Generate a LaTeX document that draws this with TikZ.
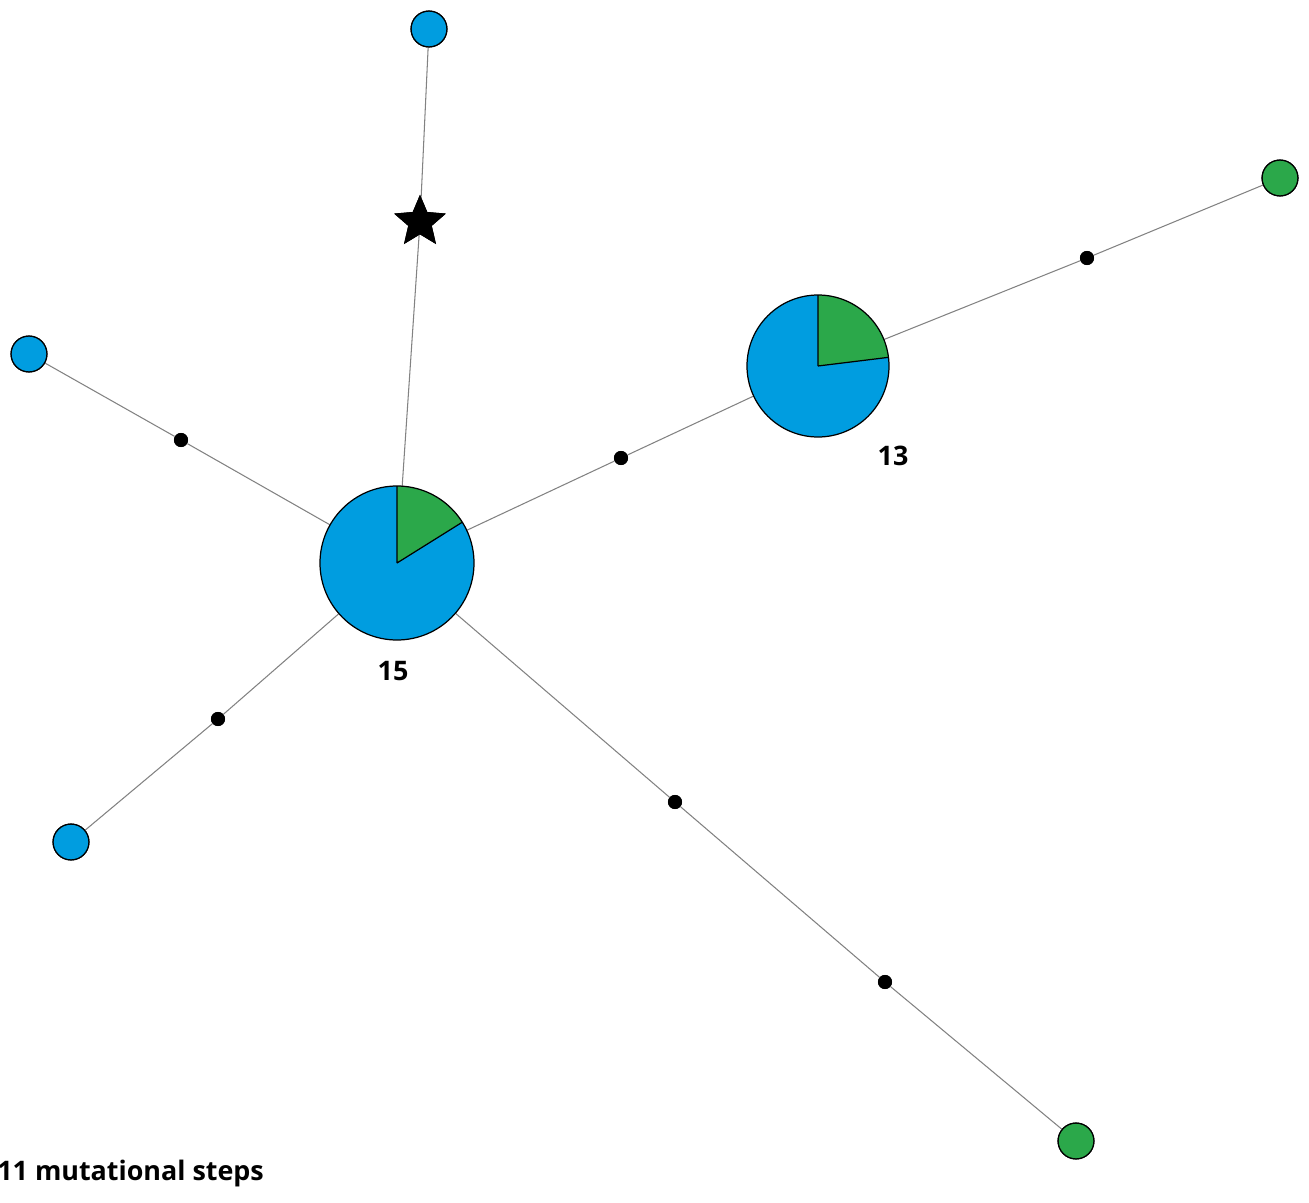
\documentclass[tikz,border=0pt]{standalone}
\usepackage{fontspec}
\setmainfont{Open Sans}
\usetikzlibrary{shapes.geometric}
\definecolor{hapblue}{RGB}{0,157,224}
\definecolor{hapgreen}{RGB}{43,168,74}
\definecolor{linkgray}{RGB}{130,130,130}
\tikzset{
  link/.style={draw=linkgray, line width=0.6pt},
  hap/.style={circle, draw=black, line width=0.7pt, minimum size=#1, inner sep=0pt},
  bluehap/.style={hap=20.4pt, fill=hapblue},
  greenhap/.style={hap=20.4pt, fill=hapgreen},
  median/.style={circle, fill=black, minimum size=8pt, inner sep=0pt},
  rootstar/.style={star, star points=5, star point ratio=2.2, fill=black, minimum size=31pt, inner sep=0pt},
  lbl/.style={font=\bfseries\fontsize{15.3}{17}\selectfont}
}
\begin{document}
\begin{tikzpicture}[x=0.02cm, y=-0.02cm]
\useasboundingbox (0,0) rectangle (1309,1203);
% haplotype positions
\coordinate (h15) at (397,563);
\coordinate (h13) at (818,366);
\node[bluehap]  (b1) at (429,29) {};
\node[bluehap]  (b2) at (29,354) {};
\node[bluehap]  (b3) at (71,842) {};
\node[greenhap] (g1) at (1280,178) {};
\node[greenhap] (g2) at (1076,1141) {};
\node[rootstar] (st) at (420,222) {};
\node[median] (m1) at (181,440) {};
\node[median] (m2) at (621,458) {};
\node[median] (m3) at (1087,258) {};
\node[median] (m4) at (218,719) {};
\node[median] (m5) at (675,802) {};
\node[median] (m6) at (885,982) {};
% connectors
\draw[link] (h15) -- (st.center) -- (b1);
\draw[link] (h15) -- (m1) -- (b2);
\draw[link] (h15) -- (m4) -- (b3);
\draw[link] (h15) -- (m5) -- (m6) -- (g2);
\draw[link] (h15) -- (m2) -- (h13);
\draw[link] (h13) -- (m3) -- (g1);
% redraw end nodes above links
\node[bluehap]  at (b1) {};
\node[bluehap]  at (b2) {};
\node[bluehap]  at (b3) {};
\node[greenhap] at (g1) {};
\node[greenhap] at (g2) {};
\node[rootstar] at (st) {};
\foreach \m in {m1,m2,m3,m4,m5,m6} \node[median] at (\m) {};
% pie charts (y axis points down, so angles are negated)
\fill[hapblue] (h15) circle[radius=77];
\fill[hapgreen] (h15) -- ++(-90:77) arc[start angle=-90, end angle=-32, radius=77] -- cycle;
\draw[line width=0.7pt] (h15) -- ++(-90:77) (h15) -- ++(-32:77);
\draw[line width=0.7pt] (h15) circle[radius=77];
\fill[hapblue] (h13) circle[radius=71];
\fill[hapgreen] (h13) -- ++(-90:71) arc[start angle=-90, end angle=-7, radius=71] -- cycle;
\draw[line width=0.7pt] (h13) -- ++(-90:71) (h13) -- ++(-7:71);
\draw[line width=0.7pt] (h13) circle[radius=71];
% labels
\node[lbl] (l15) at (393,671) {15};
\node[lbl] (l13) at (893,456) {13};
\node[lbl, anchor=west, inner sep=0pt] (steps) at (-3,1174) {11 mutational steps};
\end{tikzpicture}
\end{document}
